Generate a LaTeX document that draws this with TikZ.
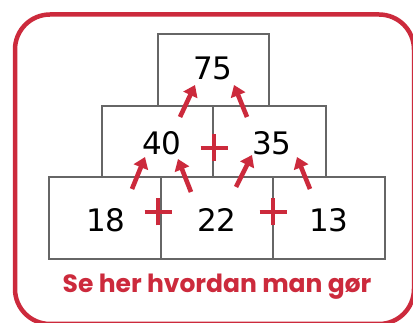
\documentclass[tikz,border=0pt]{standalone}
\usepackage{fontspec}
\setmainfont{DejaVu Sans}
\newfontfamily\labfont{Poppins}
\usetikzlibrary{arrows.meta}
\definecolor{pyred}{HTML}{CC2A3C}
\definecolor{pygray}{HTML}{666666}
\tikzset{
  cell/.style={draw=pygray, line width=1.9pt, fill=white},
  num/.style={font=\fontsize{31}{31}\selectfont, text=black, inner sep=0pt},
  upar/.style={draw=pyred, line width=4.6pt, -{Triangle[length=11pt,width=15pt]}},
  plusline/.style={draw=pyred, line width=4.8pt},
  frame/.style={draw=pyred, line width=4.5pt, rounded corners=35pt},
}
\newcommand{\plussign}[2]{%
  \coordinate (#1) at #2;
  \draw[plusline] ([xshift=-13.5pt]#1) -- ([xshift=13.5pt]#1);
  \draw[plusline] ([yshift=-13.5pt]#1) -- ([yshift=13.5pt]#1);}
\begin{document}
\begin{tikzpicture}[x=1pt,y=-1pt]
\useasboundingbox (0,0) rectangle (413,323);
\draw[frame] (15,14.5) rectangle (414,324);
% cells
\draw[cell] (158,34) rectangle (269,106);
\draw[cell] (102,106) rectangle (213,177);
\draw[cell] (213,106) rectangle (326,177);
\draw[cell] (49,177) rectangle (161,259);
\draw[cell] (161,177) rectangle (273,259);
\draw[cell] (273,177) rectangle (385,259);
% numbers
\node[num] (n75) at (213,68) {75};
\node[num] (n40) at (162,143) {40};
\node[num] (n35) at (272,143) {35};
\node[num] (n18) at (106,220) {18};
\node[num] (n22) at (217,220) {22};
\node[num] (n13) at (329,220) {13};
% plus signs
\plussign{p1}{(214,148)}
\plussign{p2}{(158,212)}
\plussign{p3}{(273,212)}
% arrows
\coordinate (a1s) at (180,117); \coordinate (a1e) at (195,85);
\coordinate (a2s) at (247,117); \coordinate (a2e) at (234,85);
\coordinate (a3s) at (132,189); \coordinate (a3e) at (145,157);
\coordinate (a4s) at (191,192); \coordinate (a4e) at (178,159);
\coordinate (a5s) at (236,187); \coordinate (a5e) at (252,155);
\coordinate (a6s) at (310,189); \coordinate (a6e) at (297,157);
\draw[upar] (a1s) -- (a1e);
\draw[upar] (a2s) -- (a2e);
\draw[upar] (a3s) -- (a3e);
\draw[upar] (a4s) -- (a4e);
\draw[upar] (a5s) -- (a5e);
\draw[upar] (a6s) -- (a6e);
\node[text=pyred, font=\labfont\bfseries\fontsize{25}{25}\selectfont, inner sep=0pt] (cap) at (217,287) {Se her hvordan man gør};
\end{tikzpicture}
\end{document}
